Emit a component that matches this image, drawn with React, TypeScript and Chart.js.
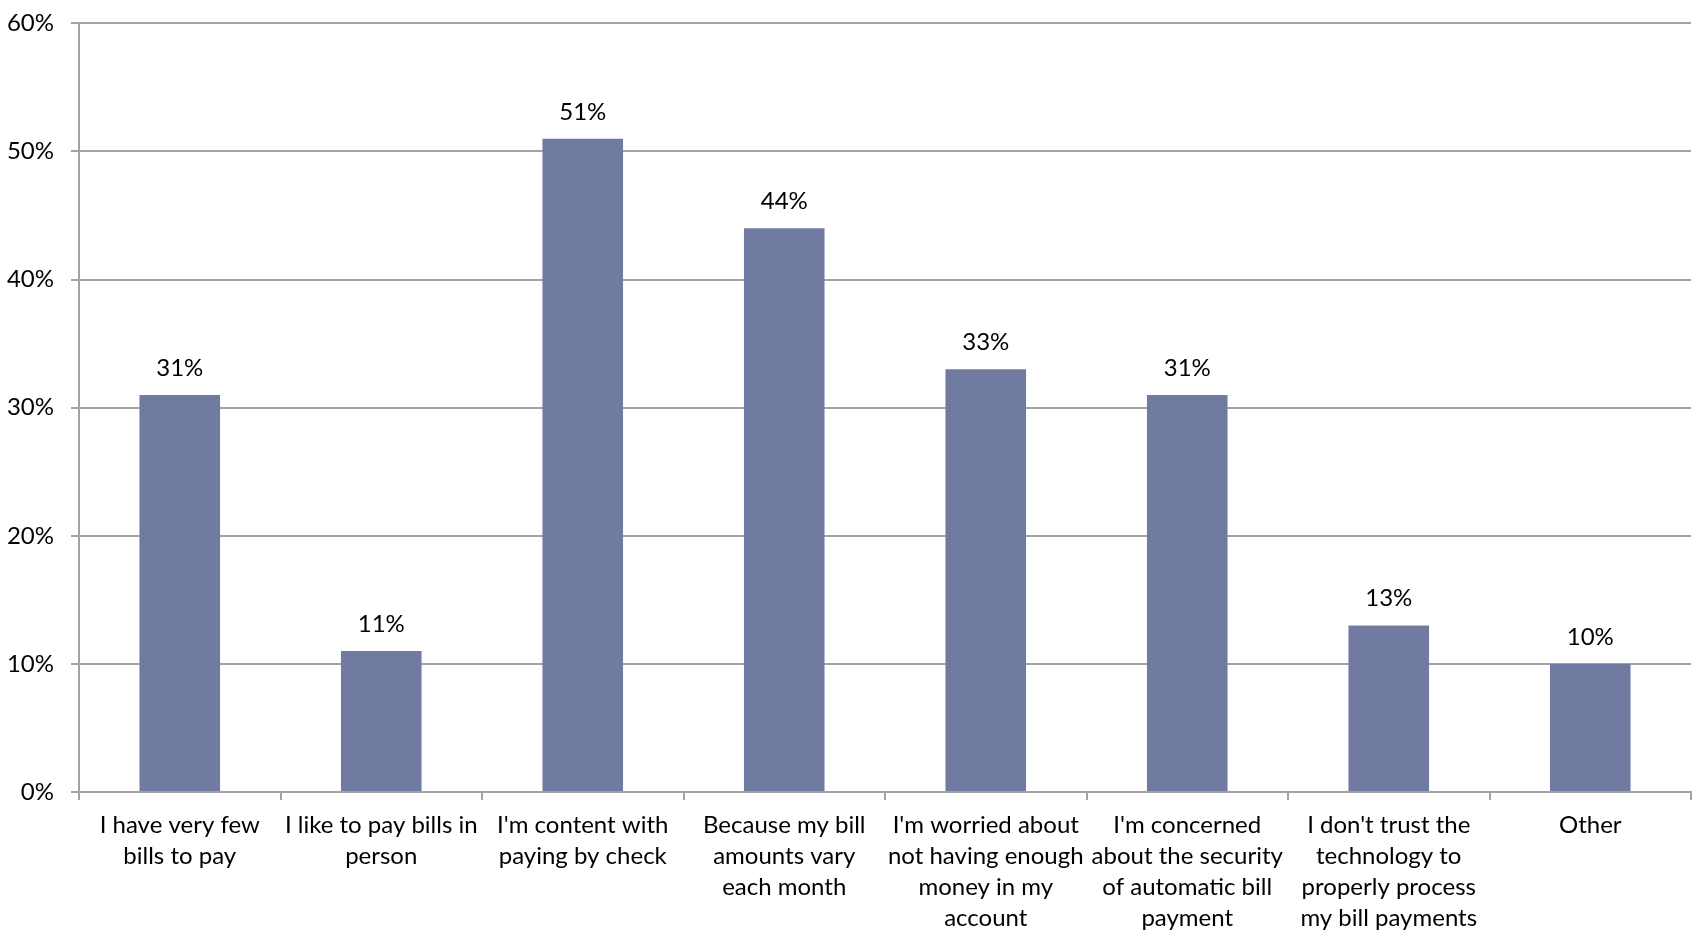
import React, { useEffect, useRef } from "react";
import { Chart, registerables } from "chart.js";

Chart.register(...registerables);

const categories: string[][] = [
  ["I have very few", "bills to pay"],
  ["I like to pay bills in", "person"],
  ["I'm content with", "paying by check"],
  ["Because my bill", "amounts vary", "each month"],
  ["I'm worried about", "not having enough", "money in my", "account"],
  ["I'm concerned", "about the security", "of automatic bill", "payment"],
  ["I don't trust the", "technology to", "properly process", "my bill payments"],
  ["Other"],
];

const percentages: number[] = [31, 11, 51, 44, 33, 31, 13, 10];

const yTickValues: number[] = [0, 10, 20, 30, 40, 50, 60];

const FONT = "Lato, 'Open Sans', sans-serif";
const BAR_COLOR = "#717ba2";
const GRID_COLOR = "#a3a3a3";

// Writes each bar's value just above its top edge.
const valueLabels = {
  id: "valueLabels",
  afterDatasetsDraw(chart: Chart) {
    const { ctx } = chart;
    const meta = chart.getDatasetMeta(0);
    ctx.save();
    ctx.font = `24px ${FONT}`;
    ctx.fillStyle = "#000";
    ctx.textAlign = "center";
    ctx.textBaseline = "alphabetic";
    meta.data.forEach((el: any, i: number) => {
      ctx.fillText(`${percentages[i]}%`, el.x, el.y - 19);
    });
    ctx.restore();
  },
};

export default function App() {
  const canvasRef = useRef<HTMLCanvasElement | null>(null);

  useEffect(() => {
    document.body.style.margin = "0";
    const canvas = canvasRef.current;
    if (!canvas) return;
    const chart = new Chart(canvas, {
      type: "bar",
      data: {
        labels: categories,
        datasets: [
          {
            data: percentages,
            backgroundColor: BAR_COLOR,
            borderWidth: 0,
            categoryPercentage: 1,
            barPercentage: 0.4,
          },
        ],
      },
      options: {
        responsive: false,
        animation: false,
        events: [],
        layout: { padding: { top: 14, right: 3, left: 0, bottom: 0 } },
        plugins: {
          legend: { display: false },
          tooltip: { enabled: false },
        },
        scales: {
          x: {
            offset: true,
            grid: {
              offset: true,
              drawOnChartArea: false,
              drawTicks: true,
              tickLength: 8,
              color: GRID_COLOR,
              lineWidth: 2,
            },
            border: { color: GRID_COLOR, width: 2 },
            ticks: {
              autoSkip: false,
              maxRotation: 0,
              minRotation: 0,
              padding: 10,
              color: "#000",
              font: { family: FONT, size: 24, lineHeight: 1.29 },
            },
            afterFit: (scale: any) => {
              scale.height = 141;
            },
          },
          y: {
            min: 0,
            max: 60,
            afterBuildTicks: (scale: any) => {
              scale.ticks = yTickValues.map((v) => ({ value: v }));
            },
            grid: {
              color: GRID_COLOR,
              lineWidth: 2,
              tickLength: 8,
            },
            border: { color: GRID_COLOR, width: 2 },
            ticks: {
              padding: 17,
              color: "#000",
              font: { family: FONT, size: 24 },
              callback: (v: any) => `${v}%`,
            },
            afterFit: (scale: any) => {
              scale.width = 79;
            },
          },
        },
      },
      plugins: [valueLabels],
    });
    return () => chart.destroy();
  }, []);

  return (
    <div style={{ width: 1694, height: 933, overflow: "hidden" }}>
      <canvas
        ref={canvasRef}
        width={1694}
        height={941}
        style={{ display: "block", marginTop: -8 }}
      />
    </div>
  );
}
